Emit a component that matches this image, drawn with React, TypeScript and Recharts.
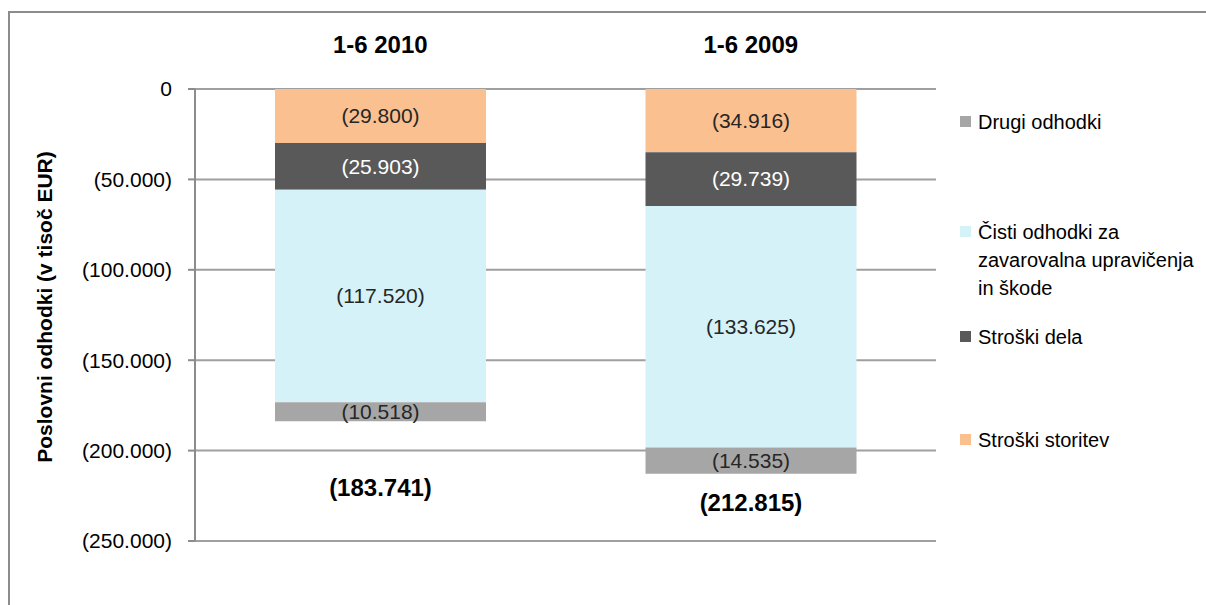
import React from 'react';
import { BarChart, Bar, XAxis, YAxis, CartesianGrid, Legend, LabelList } from 'recharts';

const periods = ['1-6 2010', '1-6 2009'];
const storitve = [-29800, -34916];
const delo = [-25903, -29739];
const cisti = [-117520, -133625];
const drugi = [-10518, -14535];
const yTicks = [0, -50000, -100000, -150000, -200000, -250000];

const seriesNames = {
  storitve: 'Stroški storitev',
  delo: 'Stroški dela',
  cisti: 'Čisti odhodki za zavarovalna upravičenja in škode',
  drugi: 'Drugi odhodki',
};

const colors = {
  storitve: '#FAC090',
  delo: '#595959',
  cisti: '#D5F2F8',
  drugi: '#A6A6A6',
};

const data = periods.map((period, i) => ({
  period,
  storitve: storitve[i],
  delo: delo[i],
  cisti: cisti[i],
  drugi: drugi[i],
  total: storitve[i] + delo[i] + cisti[i] + drugi[i],
}));

const FONT = '"Liberation Sans", Arial, sans-serif';

const fmt = (v: number) => {
  if (v === 0) return '0';
  const s = String(Math.abs(v)).replace(/\B(?=(\d{3})+(?!\d))/g, '.');
  return v < 0 ? `(${s})` : s;
};

// Excel had the totals as loose text boxes, so the gap below each bar differs
const totalDy = [66, 29];

const TotalLabel = (props: any) => {
  const { x, y, width, height, index } = props;
  const bottom = Math.max(y, y + height);
  return (
    <text
      x={x + width / 2}
      y={bottom + totalDy[index]}
      textAnchor="middle"
      dominantBaseline="central"
      fontFamily={FONT}
      fontSize={24}
      fontWeight="bold"
      fill="#000"
    >
      {fmt(data[index].total)}
    </text>
  );
};

const legendItems = [
  { key: 'drugi', gap: 0 },
  { key: 'cisti', gap: 82 },
  { key: 'delo', gap: 21 },
  { key: 'storitve', gap: 75 },
] as const;

const renderLegend = () => (
  <div style={{ fontFamily: FONT, fontSize: 20, lineHeight: '28px', color: '#000', width: 240 }}>
    {legendItems.map((it) => (
      <div key={it.key} style={{ display: 'flex', alignItems: 'flex-start', marginTop: it.gap }}>
        <span
          style={{
            width: 11,
            height: 11,
            background: colors[it.key],
            marginTop: 8,
            marginRight: 7,
            flex: 'none',
          }}
        />
        <span style={{ width: 222 }}>{seriesNames[it.key]}</span>
      </div>
    ))}
  </div>
);

const App: React.FC = () => {
  return (
    <div style={{ position: 'fixed', left: 0, top: 0, width: 1206, height: 605, overflow: 'hidden', background: '#fff' }}>
      <div
        style={{
          position: 'absolute',
          left: 8,
          top: 11,
          width: 1230,
          height: 640,
          border: '2px solid #8c8c8c',
        }}
      />
      <div style={{ position: 'absolute', left: 0, top: 0 }}>
        <BarChart
          width={1206}
          height={605}
          data={data}
          margin={{ top: 0, right: 30, bottom: 64, left: 0 }}
          barSize={211}
        >
          <CartesianGrid vertical={false} stroke="#9f9f9f" strokeWidth={2} />
          <XAxis
            dataKey="period"
            orientation="top"
            height={89}
            axisLine={false}
            tickLine={false}
            tickSize={0}
            tickMargin={36}
            tick={{ fontFamily: FONT, fontSize: 24, fontWeight: 'bold', fill: '#000' }}
          />
          <YAxis
            type="number"
            domain={[-250000, 0]}
            ticks={yTicks}
            width={195}
            tickSize={7}
            tickMargin={16}
            tickFormatter={fmt}
            axisLine={{ stroke: '#8c8c8c', strokeWidth: 2 }}
            tickLine={{ stroke: '#8c8c8c', strokeWidth: 2 }}
            tick={{ fontFamily: FONT, fontSize: 21, fill: '#000' }}
            label={{
              value: 'Poslovni odhodki (v tisoč EUR)',
              angle: -90,
              position: 'center',
              dx: -53,
              dy: -8,
              style: { fontFamily: FONT, fontSize: 21, fontWeight: 'bold', fill: '#000', textAnchor: 'middle' },
            }}
          />
          <Legend
            layout="vertical"
            align="right"
            verticalAlign="top"
            content={renderLegend}
            wrapperStyle={{ left: 960, top: 108, width: 240 }}
          />
          <Bar dataKey="storitve" stackId="a" fill={colors.storitve} name={seriesNames.storitve} isAnimationActive={false}>
            <LabelList dataKey="storitve" position="center" formatter={fmt} fill="#262626" fontSize={21} fontFamily={FONT} />
          </Bar>
          <Bar dataKey="delo" stackId="a" fill={colors.delo} name={seriesNames.delo} isAnimationActive={false}>
            <LabelList dataKey="delo" position="center" formatter={fmt} fill="#ffffff" fontSize={21} fontFamily={FONT} />
          </Bar>
          <Bar dataKey="cisti" stackId="a" fill={colors.cisti} name={seriesNames.cisti} isAnimationActive={false}>
            <LabelList dataKey="cisti" position="center" formatter={fmt} fill="#262626" fontSize={21} fontFamily={FONT} />
          </Bar>
          <Bar dataKey="drugi" stackId="a" fill={colors.drugi} name={seriesNames.drugi} isAnimationActive={false}>
            <LabelList dataKey="drugi" position="center" formatter={fmt} fill="#262626" fontSize={21} fontFamily={FONT} />
            <LabelList dataKey="total" content={TotalLabel} />
          </Bar>
        </BarChart>
      </div>
    </div>
  );
};

export default App;
